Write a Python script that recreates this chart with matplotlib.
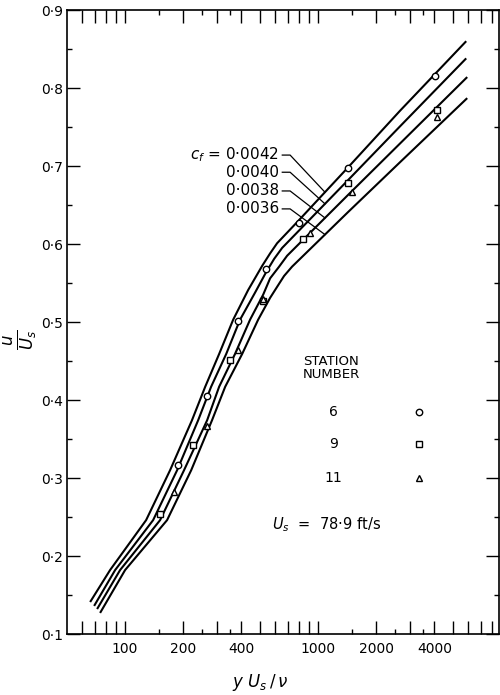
import numpy as np
import matplotlib
matplotlib.use('Agg')
import matplotlib.pyplot as plt
from matplotlib.ticker import FixedLocator, FuncFormatter, NullFormatter

plt.rcParams['font.family'] = ['DejaVu Sans']
plt.rcParams['mathtext.fontset'] = 'dejavusans'

# ---- curves (Clauser chart) ----
cf_labels = ['0·0042', '0·0040', '0·0038', '0·0036']

x_cf42 = [65.9, 83.6, 128.5, 171, 222, 260, 307, 363, 434, 513, 564, 613, 778, 1414, 2660, 5850]
y_cf42 = [0.141, 0.182, 0.246, 0.310, 0.374, 0.417, 0.459, 0.503, 0.541, 0.572, 0.588, 0.601, 0.628, 0.697, 0.771, 0.860]

x_cf40 = [69.1, 88.8, 139.7, 186, 239, 279, 334, 394, 472, 538, 592, 651, 1430, 2660, 5850]
y_cf40 = [0.136, 0.182, 0.246, 0.310, 0.374, 0.417, 0.459, 0.503, 0.538, 0.564, 0.581, 0.595, 0.682, 0.751, 0.838]

x_cf38 = [71.6, 94.2, 151.8, 202, 266, 307, 371, 444, 519, 564, 628, 691, 1430, 2660, 5920]
y_cf38 = [0.132, 0.182, 0.246, 0.310, 0.374, 0.417, 0.459, 0.503, 0.535, 0.556, 0.571, 0.585, 0.663, 0.729, 0.814]

x_cf36 = [74.2, 100, 165, 220, 282, 330, 404, 489, 564, 620, 666, 733, 1430, 2660, 5920]
y_cf36 = [0.127, 0.182, 0.246, 0.310, 0.374, 0.417, 0.459, 0.503, 0.531, 0.547, 0.559, 0.571, 0.641, 0.705, 0.787]

# ---- measured points ----
st6_x = [188, 266, 385, 538, 797, 1430, 4040]
st6_y = [0.317, 0.405, 0.501, 0.568, 0.627, 0.697, 0.815]
st9_x = [152, 225, 350, 519, 836, 1430, 4140]
st9_y = [0.254, 0.342, 0.451, 0.527, 0.606, 0.678, 0.772]
st11_x = [180, 266, 385, 519, 909, 1500, 4140]
st11_y = [0.282, 0.367, 0.464, 0.529, 0.614, 0.667, 0.763]

station_labels = ['6', '9', '11']

# ---- axes ticks ----
x_major = [60, 70, 80, 90, 100, 200, 300, 400, 500, 600, 700, 800, 900,
           1000, 2000, 3000, 4000, 5000, 6000, 7000, 8000]
x_minor = [150, 250, 350, 1500, 2500, 3500]
x_labeled = [100, 200, 400, 1000, 2000, 4000]
y_major = [0.1, 0.2, 0.3, 0.4, 0.5, 0.6, 0.7, 0.8, 0.9]
y_minor = [0.15, 0.25, 0.35, 0.45, 0.55, 0.65, 0.75, 0.85]

fig = plt.figure(figsize=(5.0, 6.95), dpi=100)
ax = fig.add_axes([67/500, 61/695, 432/500, 624/695])
ax.set_xscale('log')
ax.set_xlim(50, 8650)
ax.set_ylim(0.1, 0.9)

curves = [(x_cf42, y_cf42), (x_cf40, y_cf40), (x_cf38, y_cf38), (x_cf36, y_cf36)]
for xs, ys in curves:
    ax.plot(xs, ys, color='black', lw=1.5, solid_capstyle='butt',
            solid_joinstyle='round', zorder=2)

mk = dict(color='black', ls='none', mfc='white', mew=1.0, zorder=4)
ax.plot(st6_x, st6_y, marker='o', ms=4.6, **mk)
ax.plot(st9_x, st9_y, marker='s', ms=3.8, **mk)
ax.plot(st11_x, st11_y, marker='^', ms=4.3, **mk)

# ---- c_f labels with leader lines ----
label_x = 628
label_y = [0.714, 0.692, 0.668, 0.645]
dash_x0, dash_x1, target_x = 652, 716, 1085
for i, ((xs, ys), lab, ly) in enumerate(zip(curves, cf_labels, label_y)):
    txt = ('$c_f$ = ' + lab) if i == 0 else lab
    ax.text(label_x, ly, txt, ha='right', va='center', fontsize=11)
    ty = np.interp(np.log10(target_x), np.log10(xs), ys)
    ax.plot([dash_x0, dash_x1, target_x], [ly, ly, ty], color='black', lw=0.9, zorder=3)

# ---- legend block ----
ax.text(0.546, 0.437, 'STATION', transform=ax.transAxes, fontsize=9.5, ha='left', va='center')
ax.text(0.546, 0.416, 'NUMBER', transform=ax.transAxes, fontsize=9.5, ha='left', va='center')
leg_y = [0.356, 0.304, 0.250]
leg_m = [('o', 4.6), ('s', 3.8), ('^', 4.3)]
for lab, yy, (m, s) in zip(station_labels, leg_y, leg_m):
    ax.text(0.616, yy, lab, transform=ax.transAxes, fontsize=10, ha='center', va='center')
    ax.plot([0.815], [yy], marker=m, ms=s, transform=ax.transAxes, clip_on=False, **mk)
ax.text(0.475, 0.175, '$U_s$  =  78·9 ft/s', transform=ax.transAxes,
        fontsize=10.5, ha='left', va='center')

# ---- ticks ----
ax.xaxis.set_major_locator(FixedLocator(x_major))
ax.xaxis.set_minor_locator(FixedLocator(x_minor))
ax.xaxis.set_major_formatter(FuncFormatter(lambda v, p: str(int(round(v))) if int(round(v)) in x_labeled else ''))
ax.xaxis.set_minor_formatter(NullFormatter())
ax.yaxis.set_major_locator(FixedLocator(y_major))
ax.yaxis.set_minor_locator(FixedLocator(y_minor))
ax.yaxis.set_major_formatter(FuncFormatter(lambda v, p: ('%.1f' % v).replace('.', '·')))
ax.yaxis.set_minor_formatter(NullFormatter())

ax.tick_params(which='both', direction='in', top=True, right=True, width=1.0, colors='black')
ax.tick_params(which='major', length=9.4, labelsize=10)
ax.tick_params(which='minor', length=3.6)
ax.tick_params(axis='x', which='major', pad=6)
ax.tick_params(axis='y', which='major', pad=3)
for s in ax.spines.values():
    s.set_linewidth(1.2)

ax.text(-0.105, 0.471, r'$\frac{u}{U_s}$', transform=ax.transAxes, rotation=90,
        fontsize=17, ha='center', va='center')
ax.text(0.447, -0.077, r'$y\ U_s\,/\,\nu$', transform=ax.transAxes,
        fontsize=12, ha='center', va='center')

fig.savefig('out.png', dpi=100)
